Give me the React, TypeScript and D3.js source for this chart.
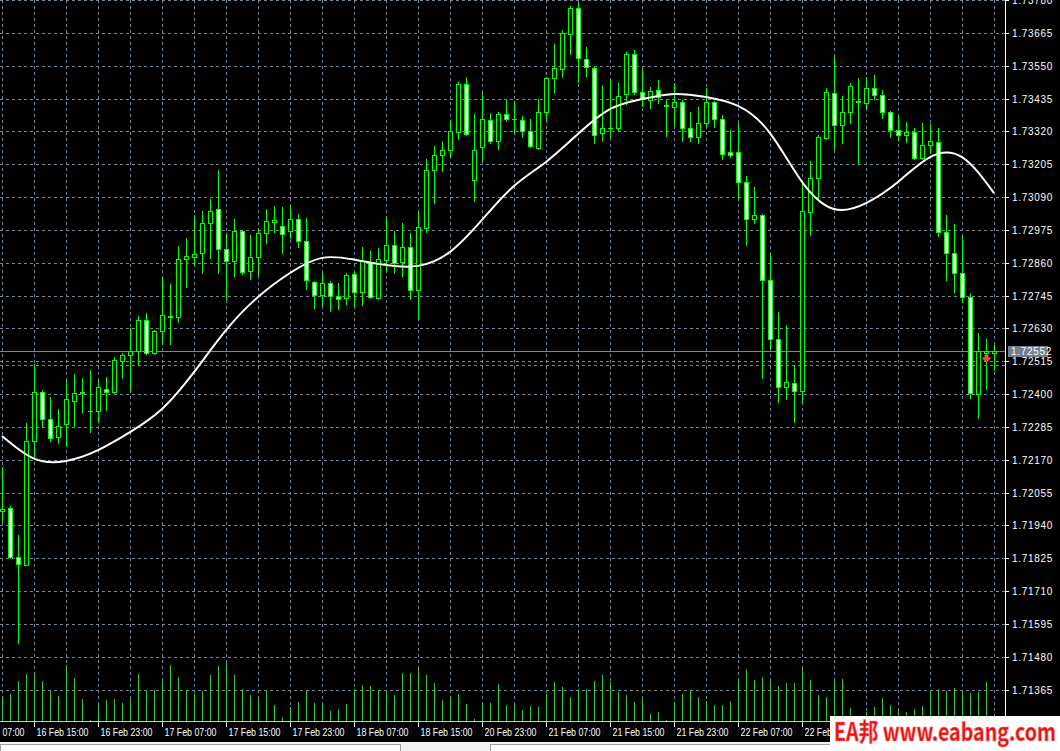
import React, { useEffect } from "react";
import * as d3 from "d3";

// ---------- DATA (H1 bars) ----------
const opens = [1.71991,1.72001,1.71830,1.71802,1.72236,1.72407,1.72313,1.72250,1.72295,1.72376,1.72404,1.72340,1.72341,1.72418,1.72407,1.72516,1.72537,1.72551,1.72659,1.72544,1.72621,1.72670,1.72670,1.72873,1.72880,1.72894,1.72999,1.73048,1.72908,1.72866,1.72971,1.72831,1.72880,1.72964,1.73003,1.72989,1.72971,1.73013,1.72936,1.72793,1.72747,1.72789,1.72743,1.72736,1.72821,1.72757,1.72863,1.72736,1.72870,1.72922,1.72863,1.72915,1.72764,1.72982,1.73185,1.73237,1.73255,1.73318,1.73486,1.73150,1.73265,1.73360,1.73286,1.73381,1.73365,1.73360,1.73321,1.73262,1.73388,1.73507,1.73538,1.73661,1.73752,1.73573,1.73542,1.73314,1.73332,1.73332,1.73451,1.73591,1.73458,1.73430,1.73465,1.73409,1.73405,1.73423,1.73332,1.73300,1.73349,1.73423,1.73363,1.73248,1.73248,1.73143,1.73013,1.73027,1.72800,1.72593,1.72425,1.72439,1.72411,1.73038,1.73157,1.73297,1.73454,1.73342,1.73388,1.73423,1.73419,1.73472,1.73447,1.73388,1.73325,1.73307,1.73318,1.73227,1.73272,1.73283,1.72968,1.72894,1.72824,1.72740,1.72400,1.72544,1.72545];
const highs = [1.72145,1.72008,1.71907,1.72299,1.72505,1.72414,1.72390,1.72348,1.72446,1.72470,1.72456,1.72484,1.72446,1.72460,1.72530,1.72544,1.72631,1.72673,1.72684,1.72624,1.72810,1.72786,1.72919,1.72947,1.73027,1.73041,1.73083,1.73185,1.72964,1.73013,1.72975,1.72957,1.72978,1.73048,1.73059,1.73055,1.73059,1.73031,1.73017,1.72796,1.72824,1.72796,1.72789,1.72824,1.72828,1.72915,1.72901,1.72912,1.73020,1.72971,1.72999,1.72964,1.73038,1.73223,1.73269,1.73286,1.73360,1.73493,1.73510,1.73381,1.73454,1.73384,1.73388,1.73430,1.73426,1.73374,1.73363,1.73433,1.73510,1.73626,1.73675,1.73759,1.73769,1.73615,1.73549,1.73482,1.73503,1.73489,1.73598,1.73605,1.73538,1.73475,1.73500,1.73430,1.73489,1.73430,1.73388,1.73405,1.73472,1.73426,1.73377,1.73325,1.73349,1.73164,1.73125,1.73031,1.72891,1.72687,1.72642,1.72502,1.73139,1.73216,1.73307,1.73472,1.73580,1.73444,1.73489,1.73507,1.73510,1.73517,1.73465,1.73391,1.73377,1.73353,1.73332,1.73349,1.73346,1.73332,1.73027,1.72996,1.72957,1.72754,1.72614,1.72593,1.72572];
const lows = [1.71956,1.71826,1.71528,1.71800,1.72176,1.72285,1.72236,1.72229,1.72218,1.72288,1.72337,1.72267,1.72302,1.72344,1.72405,1.72456,1.72411,1.72505,1.72540,1.72540,1.72575,1.72575,1.72652,1.72775,1.72852,1.72824,1.72877,1.72824,1.72733,1.72814,1.72821,1.72803,1.72817,1.72929,1.72968,1.72894,1.72947,1.72915,1.72768,1.72701,1.72712,1.72691,1.72698,1.72715,1.72708,1.72712,1.72736,1.72733,1.72831,1.72824,1.72814,1.72733,1.72666,1.72968,1.73069,1.73181,1.73234,1.73293,1.73307,1.73076,1.73216,1.73279,1.73258,1.73356,1.73318,1.73300,1.73265,1.73258,1.73356,1.73458,1.73510,1.73591,1.73493,1.73514,1.73279,1.73286,1.73300,1.73321,1.73416,1.73451,1.73409,1.73402,1.73419,1.73304,1.73342,1.73286,1.73286,1.73279,1.73335,1.73335,1.73223,1.73230,1.73083,1.72922,1.72999,1.72456,1.72561,1.72372,1.72383,1.72302,1.72369,1.72957,1.73087,1.73293,1.73258,1.73279,1.73349,1.73206,1.73402,1.73433,1.73367,1.73300,1.73290,1.73283,1.73223,1.73223,1.73244,1.72954,1.72800,1.72757,1.72722,1.72386,1.72316,1.72418,1.72484];
const closes = [1.71998,1.71830,1.71805,1.72236,1.72407,1.72313,1.72246,1.72288,1.72383,1.72404,1.72407,1.72342,1.72425,1.72407,1.72519,1.72537,1.72551,1.72659,1.72544,1.72621,1.72677,1.72673,1.72873,1.72884,1.72891,1.72999,1.73041,1.72908,1.72866,1.72971,1.72828,1.72880,1.72964,1.73006,1.73010,1.72961,1.73013,1.72936,1.72800,1.72747,1.72789,1.72743,1.72733,1.72817,1.72757,1.72866,1.72740,1.72873,1.72922,1.72859,1.72915,1.72764,1.72985,1.73185,1.73237,1.73255,1.73321,1.73486,1.73311,1.73255,1.73363,1.73286,1.73381,1.73363,1.73365,1.73321,1.73269,1.73388,1.73507,1.73542,1.73664,1.73752,1.73577,1.73545,1.73307,1.73332,1.73332,1.73444,1.73591,1.73458,1.73433,1.73461,1.73440,1.73412,1.73423,1.73332,1.73300,1.73349,1.73423,1.73363,1.73241,1.73237,1.73143,1.73013,1.73027,1.72800,1.72593,1.72425,1.72442,1.72411,1.73041,1.73157,1.73300,1.73458,1.73342,1.73388,1.73479,1.73426,1.73472,1.73447,1.73388,1.73325,1.73307,1.73318,1.73227,1.73272,1.73286,1.72968,1.72894,1.72824,1.72740,1.72404,1.72551,1.72551,1.72552];
const volumes = [240,270,400,470,460,400,300,250,560,430,220,10,160,210,220,180,220,470,310,310,400,560,440,310,270,300,460,550,580,460,320,260,220,300,160,40,140,190,300,180,160,100,120,170,320,360,350,310,300,260,480,480,520,460,380,210,230,270,170,20,180,180,370,160,160,110,150,140,270,390,340,240,320,320,400,460,390,290,260,190,220,70,90,10,190,270,310,240,200,160,160,200,410,520,410,440,400,350,380,380,520,410,260,240,400,420,130,50,90,140,230,160,110,90,120,150,290,320,300,330,280,280,290,390,30];
// moving average, sampled every 4th bar (bars 0,4,8,...,124)
const maBars = [0,4,8,12,16,20,24,28,32,36,40,44,48,52,56,60,64,68,72,76,80,84,88,92,96,100,104,108,112,116,120,124];
const maValues = [1.72253,1.72174,1.72166,1.72204,1.72267,1.72348,1.72477,1.72624,1.72740,1.72824,1.72877,1.72871,1.72852,1.72849,1.72898,1.73010,1.73129,1.73213,1.73311,1.73398,1.73433,1.73451,1.73440,1.73409,1.73314,1.73143,1.73048,1.73069,1.73143,1.73230,1.73230,1.73104];
const priceTicks = [1.73780,1.73665,1.73550,1.73435,1.73320,1.73205,1.73090,1.72975,1.72860,1.72745,1.72630,1.72515,1.72400,1.72285,1.72170,1.72055,1.71940,1.71825,1.71710,1.71595,1.71480,1.71365];
const timeLabelBars = [-4,4,12,20,28,36,44,52,60,68,76,84,92,100];
const timeLabels = ["16 Feb 07:00","16 Feb 15:00","16 Feb 23:00","17 Feb 07:00","17 Feb 15:00","17 Feb 23:00","18 Feb 07:00","18 Feb 15:00","20 Feb 23:00","21 Feb 07:00","21 Feb 15:00","21 Feb 23:00","22 Feb 07:00","22 Feb 15:00"];
const currentPrice = 1.72552;
const levelPrice = 1.72502;
const signalBar = 123;
const signalPrice = 1.72535;

const W = 1060, H = 751;
const AXIS_X = 1005;
const PLOT_B = 721;
const GREEN = "#00ff00";
const GRID = "#778899";

const px = (v: number) => Math.round(v) + 0.5;

export default function App() {
  useEffect(() => {
    document.body.style.margin = "0";
    document.body.style.background = "#000";
  }, []);

  const n = opens.length;
  const x = d3.scaleLinear().domain([0, n - 1]).range([2, 2 + 8 * (n - 1)]);
  const y = d3.scaleLinear().domain([1.71365, 1.7378]).range([689.7, 0]);
  const vy = d3.scaleLinear().domain([0, 600]).range([PLOT_B, PLOT_B - 60]);

  const vGrid = d3.range(0, n, 4).map((i) => x(i));

  const maLine = d3
    .line<number>()
    .x((_, k) => x(maBars[k]))
    .y((v) => y(v))
    .curve(d3.curveNatural)(maValues) as string;

  const candles = d3.range(n).map((i) => {
    const cx = Math.round(x(i));
    const o = opens[i], c = closes[i];
    const yt = Math.round(y(Math.max(o, c)));
    const yb = Math.round(y(Math.min(o, c)));
    const yh = Math.round(y(highs[i]));
    const yl = Math.round(y(lows[i]));
    const bull = c >= o;
    return (
      <g key={i}>
        <line x1={cx + 0.5} x2={cx + 0.5} y1={yh} y2={yl + 1} stroke={GREEN} strokeWidth={1} />
        {yb - yt < 1 ? (
          <line x1={cx - 2} x2={cx + 3} y1={yt + 0.5} y2={yt + 0.5} stroke={GREEN} strokeWidth={1} />
        ) : (
          <rect x={cx - 1.5} y={yt + 0.5} width={4} height={yb - yt} fill={bull ? "#000" : "#fff"} stroke={GREEN} strokeWidth={1} />
        )}
      </g>
    );
  });

  const vols = volumes.map((v, i) => {
    const cx = Math.round(x(i)) + 0.5;
    return <line key={i} x1={cx} x2={cx} y1={PLOT_B} y2={Math.round(vy(v))} stroke="#32cd32" strokeWidth={1} />;
  });

  const sx = Math.round(x(signalBar)) + 0.5;
  const sy = Math.round(y(signalPrice));

  return (
    <svg width={W} height={H} style={{ position: "absolute", left: 0, top: 0, display: "block" }} shapeRendering="crispEdges">
      <rect x={0} y={0} width={W} height={H} fill="#000" />
      <defs>
        <clipPath id="plot">
          <rect x={0} y={0} width={AXIS_X} height={PLOT_B} />
        </clipPath>
      </defs>
      {/* grid */}
      <g stroke={GRID} strokeWidth={1} strokeDasharray="3,3">
        {priceTicks.map((p) => (
          <line key={p} x1={0} x2={AXIS_X} y1={px(y(p))} y2={px(y(p))} />
        ))}
        {vGrid.map((gx) => (
          <line key={gx} x1={px(gx)} x2={px(gx)} y1={0} y2={PLOT_B} />
        ))}
      </g>
      {/* volumes */}
      <g>{vols}</g>
      {/* current price + level */}
      <line x1={0} x2={AXIS_X} y1={px(y(currentPrice))} y2={px(y(currentPrice))} stroke={GRID} strokeWidth={1} />
      <line x1={0} x2={AXIS_X} y1={px(y(levelPrice))} y2={px(y(levelPrice))} stroke="#22c022" strokeWidth={1} strokeDasharray="3,3" />
      {/* candles */}
      <g clipPath="url(#plot)">{candles}</g>
      {/* MA */}
      <path d={maLine} fill="none" stroke="#fff" strokeWidth={2} clipPath="url(#plot)" shapeRendering="auto" />
      {/* signal arrow */}
      <path
        d={`M${sx - 1.5},${sy - 1} h3 v3 h2.5 l-4,4.5 l-4,-4.5 h2.5 z`}
        fill="#e8401c"
        stroke="#ff9a80"
        strokeWidth={0.6}
        shapeRendering="auto"
      />
      {/* axes */}
      <line x1={AXIS_X + 0.5} x2={AXIS_X + 0.5} y1={0} y2={PLOT_B + 1} stroke="#fff" />
      <line x1={0} x2={AXIS_X + 1} y1={PLOT_B + 0.5} y2={PLOT_B + 0.5} stroke="#ffd700" />
      <g fontFamily="'Liberation Sans', Arial, sans-serif" fontSize={10} fill="#fff" shapeRendering="auto">
        {priceTicks.map((p) => {
          const ty = px(y(p));
          return (
            <g key={p}>
              <line x1={AXIS_X + 1} x2={AXIS_X + 4} y1={ty} y2={ty} stroke="#fff" shapeRendering="crispEdges" />
              <text x={1012} y={ty + 3.8} letterSpacing={0.7}>{p.toFixed(5)}</text>
            </g>
          );
        })}
        <rect x={1007.5} y={px(y(currentPrice)) - 5.5} width={40} height={11} fill="#708090" shapeRendering="crispEdges" />
        <text x={1011} y={px(y(currentPrice)) + 3.8} letterSpacing={0.7}>{currentPrice.toFixed(5)}</text>
        {timeLabelBars.map((b, k) => {
          const tx = Math.round(x(b)) + 0.5;
          return (
            <g key={b}>
              <line x1={tx} x2={tx} y1={PLOT_B + 1} y2={PLOT_B + 6} stroke="#fff" shapeRendering="crispEdges" />
              <text x={tx + 2} y={736} fontSize={10} textLength={52} lengthAdjust="spacingAndGlyphs">{timeLabels[k]}</text>
            </g>
          );
        })}
      </g>
      {/* bottom tab strip */}
      <rect x={0} y={742} width={W} height={9} fill="#f0f0f0" />
      <rect x={0.5} y={744.5} width={400} height={8} fill="#fff" stroke="#a0a0a0" />
      <rect x={490.5} y={744.5} width={570} height={8} fill="#fff" stroke="#a0a0a0" />
      {/* watermark */}
      <rect x={830} y={716} width={230} height={31} fill="#fff" />
      <text
        x={834}
        y={741}
        fontFamily="'Noto Sans CJK SC', 'Liberation Sans', sans-serif"
        fontWeight="bold"
        fontSize={25}
        fill="#e81010"
        stroke="#ff8080"
        strokeWidth={0.6}
        textLength={222}
        lengthAdjust="spacingAndGlyphs"
        shapeRendering="auto"
      >
        EA邦 www.eabang.com
      </text>
    </svg>
  );
}
